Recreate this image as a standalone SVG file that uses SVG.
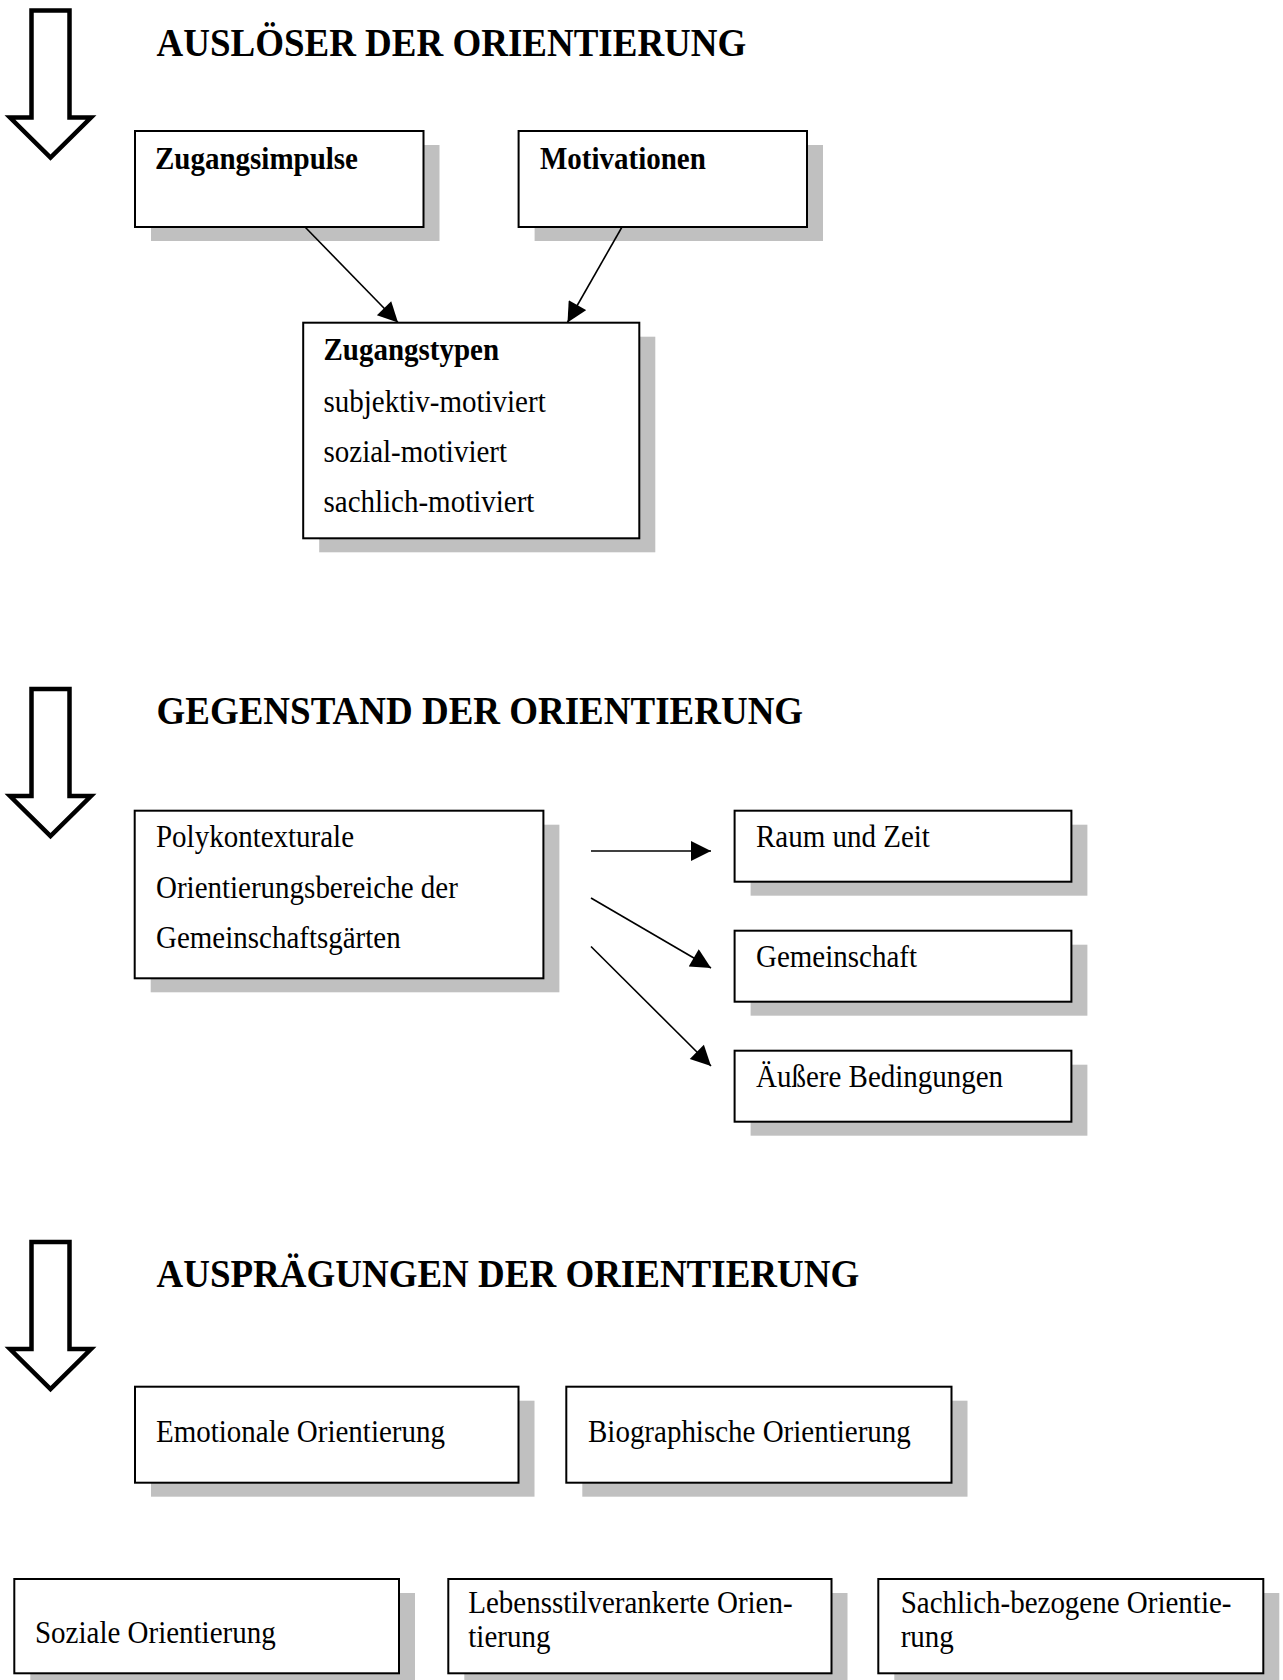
<svg xmlns="http://www.w3.org/2000/svg" width="1283" height="1680" viewBox="0 0 1283 1680">
  <style>
    .box { fill: #ffffff; stroke: #000000; stroke-width: 2; }
    .shadow { fill: #c0c0c0; stroke: none; }
    .big { fill: #ffffff; stroke: #000000; stroke-width: 4.5; stroke-linejoin: miter; }
    .edge { stroke: #000000; stroke-width: 1.6; fill: none; marker-end: url(#head); }
    text { font-family: "Liberation Serif", "Times New Roman", serif; fill: #000000; }
    .h { font-size: 37px; font-weight: bold; }
    .b { font-size: 29px; font-weight: bold; }
    .t { font-size: 29px; }
  </style>
  <defs>
    <marker id="head" viewBox="0 0 10 10" refX="10" refY="5" markerUnits="userSpaceOnUse" markerWidth="23" markerHeight="20" orient="auto">
      <path d="M0,0 L10,5 L0,10 Z" fill="#000000"/>
    </marker>
    <path id="down" d="M31.5,0 H69.5 V107 H91 L50.5,147 L10,107 H31.5 Z"/>
  </defs>

  <!-- section arrows -->
  <g id="flow-arrows">
    <use href="#down" class="big" transform="translate(0,10.5)"/>
    <use href="#down" class="big" transform="translate(0,689)"/>
    <use href="#down" class="big" transform="translate(0,1242)"/>
  </g>

  <!-- section headings -->
  <g id="headings">
    <text class="h" transform="translate(156.5,55.7) scale(1,1.1)">AUSLÖSER DER ORIENTIERUNG</text>
    <text class="h" transform="translate(156.5,724) scale(1,1.1)">GEGENSTAND DER ORIENTIERUNG</text>
    <text class="h" transform="translate(156.5,1286.7) scale(1,1.1)">AUSPRÄGUNGEN DER ORIENTIERUNG</text>
  </g>

  <g id="zugangsimpulse">
    <rect class="shadow" x="151" y="145" width="288.5" height="96"/>
    <rect class="box" x="135" y="131" width="288.5" height="96"/>
    <text class="b" transform="translate(155,169) scale(1,1.1)">Zugangsimpulse</text>
  </g>

  <g id="motivationen">
    <rect class="shadow" x="534.6" y="145" width="288.4" height="96"/>
    <rect class="box" x="518.6" y="131" width="288.4" height="96"/>
    <text class="b" transform="translate(540,168.5) scale(1,1.1)">Motivationen</text>
  </g>

  <g id="zugangstypen">
    <rect class="shadow" x="319.2" y="336.7" width="336.1" height="215.6"/>
    <rect class="box" x="303.2" y="322.7" width="336.1" height="215.6"/>
    <text class="b" transform="translate(323.5,360) scale(1,1.1)">Zugangstypen</text>
    <text class="t" transform="translate(323.5,412.3) scale(1,1.1)">subjektiv-motiviert</text>
    <text class="t" transform="translate(323.5,461.7) scale(1,1.1)">sozial-motiviert</text>
    <text class="t" transform="translate(323.5,512.3) scale(1,1.1)">sachlich-motiviert</text>
  </g>

  <g id="polykontexturale">
    <rect class="shadow" x="150.7" y="824.7" width="408.7" height="167.6"/>
    <rect class="box" x="134.7" y="810.7" width="408.7" height="167.6"/>
    <text class="t" transform="translate(156,846.7) scale(1,1.1)">Polykontexturale</text>
    <text class="t" transform="translate(156,898.3) scale(1,1.1)">Orientierungsbereiche der</text>
    <text class="t" transform="translate(156,948.3) scale(1,1.1)">Gemeinschaftsgärten</text>
  </g>

  <g id="raum-und-zeit">
    <rect class="shadow" x="750.6" y="824.7" width="336.8" height="71"/>
    <rect class="box" x="734.6" y="810.7" width="336.8" height="71"/>
    <text class="t" transform="translate(756,847.3) scale(1,1.1)">Raum und Zeit</text>
  </g>

  <g id="gemeinschaft">
    <rect class="shadow" x="750.6" y="944.7" width="336.8" height="71"/>
    <rect class="box" x="734.6" y="930.7" width="336.8" height="71"/>
    <text class="t" transform="translate(756,967.3) scale(1,1.1)">Gemeinschaft</text>
  </g>

  <g id="aeussere-bedingungen">
    <rect class="shadow" x="750.6" y="1064.7" width="336.8" height="71"/>
    <rect class="box" x="734.6" y="1050.7" width="336.8" height="71"/>
    <text class="t" transform="translate(756,1086.7) scale(1,1.1)">Äußere Bedingungen</text>
  </g>

  <g id="emotionale">
    <rect class="shadow" x="151" y="1400.7" width="383.5" height="96"/>
    <rect class="box" x="135" y="1386.7" width="383.5" height="96"/>
    <text class="t" transform="translate(156,1441.7) scale(1,1.1)">Emotionale Orientierung</text>
  </g>

  <g id="biographische">
    <rect class="shadow" x="582.3" y="1400.7" width="385.2" height="96"/>
    <rect class="box" x="566.3" y="1386.7" width="385.2" height="96"/>
    <text class="t" transform="translate(588,1441.7) scale(1,1.1)">Biographische Orientierung</text>
  </g>

  <g id="soziale">
    <rect class="shadow" x="30.3" y="1593" width="384.7" height="94.3"/>
    <rect class="box" x="14.3" y="1579" width="384.7" height="94.3"/>
    <text class="t" transform="translate(35,1643.3) scale(1,1.1)">Soziale Orientierung</text>
  </g>

  <g id="lebensstilverankerte">
    <rect class="shadow" x="464.3" y="1593" width="383.2" height="94.3"/>
    <rect class="box" x="448.3" y="1579" width="383.2" height="94.3"/>
    <text class="t" transform="translate(468.3,1613.3) scale(1,1.1)">Lebensstilverankerte Orien-</text>
    <text class="t" transform="translate(468.3,1647.3) scale(1,1.1)">tierung</text>
  </g>

  <g id="sachlich-bezogene">
    <rect class="shadow" x="894.3" y="1593" width="385" height="94.3"/>
    <rect class="box" x="878.3" y="1579" width="385" height="94.3"/>
    <text class="t" transform="translate(900.7,1613.3) scale(1,1.1)">Sachlich-bezogene Orientie-</text>
    <text class="t" transform="translate(900.7,1647.3) scale(1,1.1)">rung</text>
  </g>

  <!-- connectors, drawn last so they run over the drop shadows -->
  <g id="connectors">
    <line class="edge" x1="305" y1="227" x2="398" y2="322.5"/>
    <line class="edge" x1="622" y1="227" x2="567.5" y2="322.5"/>
    <line class="edge" x1="591" y1="851" x2="711" y2="851"/>
    <line class="edge" x1="591" y1="898" x2="711" y2="968"/>
    <line class="edge" x1="591" y1="946.5" x2="711" y2="1066"/>
  </g>
</svg>
